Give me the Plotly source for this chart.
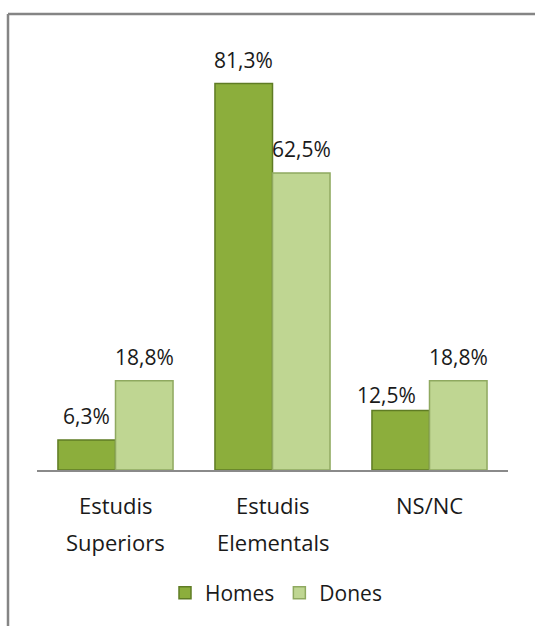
import plotly.graph_objects as go

categories = ["Estudis<br>Superiors", "Estudis<br>Elementals", "NS/NC"]
series_names = ["Homes", "Dones"]
homes = [6.3, 81.3, 12.5]
dones = [18.8, 62.5, 18.8]
label_homes = ["6,3%", "81,3%", "12,5%"]
label_dones = ["18,8%", "62,5%", "18,8%"]

xpos = list(range(len(categories)))
FONT = "Open Sans, DejaVu Sans, sans-serif"
TXT = "#1a1a1a"
W, H = 535, 626
L, R, T, B = 37, 27, 66, 156
PW, PH = W - L - R, H - T - B

fig = go.Figure()
fig.add_trace(go.Bar(
    x=xpos, y=homes, name=series_names[0],
    marker=dict(color="#8CAE3C", line=dict(color="#5F7C24", width=1.5)),
    hoverinfo="skip",
))
fig.add_trace(go.Bar(
    x=xpos, y=dones, name=series_names[1],
    marker=dict(color="#BFD692", line=dict(color="#8FA960", width=1.5)),
    hoverinfo="skip",
))

half = (1 - 0.267) / 4
for i in xpos:
    for j, (val, lab, off) in enumerate(((homes[i], label_homes[i], -half),
                                        (dones[i], label_dones[i], half))):
        # a homes label next to a taller dones bar sits a bit to the left/lower
        crowded = j == 0 and dones[i] > val and i == 2
        fig.add_annotation(x=i + off, y=val, text=lab, showarrow=False,
                           xref="x", yref="y", yanchor="middle",
                           yshift=16 if crowded else 24,
                           xshift=-14 if crowded else 0,
                           font=dict(family=FONT, size=21, color=TXT))

# category labels (one annotation per line for Excel-like line spacing)
for i, cat in enumerate(categories):
    for k, line in enumerate(cat.split("<br>")):
        fig.add_annotation(x=i, y=0, text=line, showarrow=False,
                           xref="x", yref="paper", yanchor="middle",
                           yshift=-35 - 37 * k,
                           font=dict(family=FONT, size=22, color=TXT))

# chart frame (only the top and left edges are visible)
top_y = (H - B - 14) / PH
left_x = (8 - L) / PW
right_x = (W + 2 - L) / PW
bottom_y = -(B + 2) / PH
fig.add_shape(type="line", xref="paper", yref="paper",
              x0=left_x, x1=right_x, y0=top_y, y1=top_y,
              line=dict(color="#858585", width=2.5), layer="below")
fig.add_shape(type="line", xref="paper", yref="paper",
              x0=left_x, x1=left_x, y0=bottom_y, y1=top_y,
              line=dict(color="#858585", width=2.5), layer="below")

fig.update_layout(
    width=W, height=H,
    margin=dict(l=L, r=R, t=T, b=B),
    paper_bgcolor="white", plot_bgcolor="white",
    barmode="group", bargap=0.267, bargroupgap=0,
    showlegend=True,
    legend=dict(orientation="h", x=(276 - L) / PW, xanchor="center",
                yref="container", y=1 - 593 / H, yanchor="middle",
                font=dict(family=FONT, size=21, color=TXT),
                itemwidth=30, traceorder="normal"),
    xaxis=dict(tickvals=xpos, showticklabels=False, range=[-0.5, 2.5],
               showgrid=False, zeroline=False, showline=True,
               linecolor="#8a8a8a", linewidth=2, ticks=""),
    yaxis=dict(range=[0, 85], visible=False, showgrid=False, zeroline=False),
    font=dict(family=FONT),
)

fig.write_html("out.html",
               config={"displayModeBar": False},
               post_script="document.body.style.margin='0px';"
                           "document.body.style.overflow='hidden';"
                           "document.documentElement.style.overflow='hidden';")
